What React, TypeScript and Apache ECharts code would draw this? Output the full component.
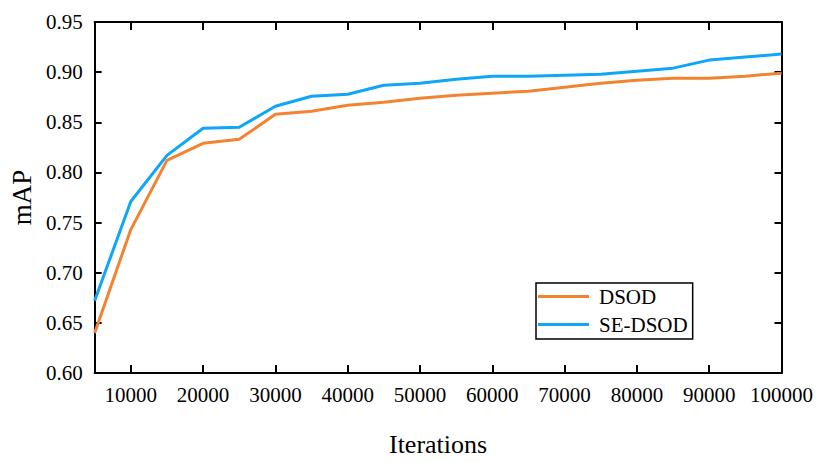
import React, { useEffect, useRef } from "react";
import * as echarts from "echarts";

const iterations = [5000, 10000, 15000, 20000, 25000, 30000, 35000, 40000, 45000, 50000, 55000, 60000, 65000, 70000, 75000, 80000, 85000, 90000, 95000, 100000];
const dsod = [0.640, 0.743, 0.812, 0.829, 0.833, 0.858, 0.861, 0.867, 0.870, 0.874, 0.877, 0.879, 0.881, 0.885, 0.889, 0.892, 0.894, 0.894, 0.896, 0.899];
const seDsod = [0.672, 0.771, 0.817, 0.844, 0.845, 0.866, 0.876, 0.878, 0.887, 0.889, 0.893, 0.896, 0.896, 0.897, 0.898, 0.901, 0.904, 0.912, 0.915, 0.918];
const xTicks = [10000, 20000, 30000, 40000, 50000, 60000, 70000, 80000, 90000, 100000];
const yTicks = [0.6, 0.65, 0.7, 0.75, 0.8, 0.85, 0.9, 0.95];

const FONT = "Liberation Serif";
const ORANGE = "#F28330";
const BLUE = "#0FA6F7";

export default function App() {
  const ref = useRef<HTMLDivElement>(null);
  useEffect(() => {
    if (!ref.current) return;
    const chart = echarts.init(ref.current, null, { renderer: "svg" });
    const axisLine = { show: true, lineStyle: { color: "#000", width: 2 } };
    const xBase = {
      type: "value",
      min: 5000,
      max: 100000,
      axisLine,
      splitLine: { show: false },
      axisTick: { show: true, inside: true, length: 8, customValues: xTicks, lineStyle: { color: "#000", width: 2 } },
    };
    const yBase = {
      type: "value",
      min: 0.6,
      max: 0.95,
      axisLine,
      splitLine: { show: false },
      axisTick: { show: true, inside: true, length: 7, customValues: yTicks, lineStyle: { color: "#000", width: 2 } },
    };
    chart.setOption({
      animation: false,
      textStyle: { fontFamily: FONT },
      grid: { left: 93, right: 31, top: 22, bottom: 71 },
      xAxis: [
        {
          ...xBase,
          position: "bottom",
          name: "Iterations",
          nameLocation: "middle",
          nameGap: 58,
          nameTextStyle: { fontFamily: FONT, fontSize: 26, color: "#000" },
          axisLabel: {
            show: true,
            fontFamily: "serif",
            fontSize: 21,
            color: "#000",
            customValues: xTicks,
            margin: 11,
            formatter: (v: number) => String(v),
          },
        },
        { ...xBase, position: "top", axisLabel: { show: false } },
      ],
      yAxis: [
        {
          ...yBase,
          position: "left",
          name: "mAP",
          nameLocation: "middle",
          nameGap: 59,
          nameTextStyle: { fontFamily: FONT, fontSize: 27, color: "#000" },
          axisLabel: {
            show: true,
            fontFamily: "Times New Roman",
            fontSize: 21,
            color: "#000",
            customValues: yTicks,
            margin: 12,
            formatter: (v: number) => v.toFixed(2),
          },
        },
        { ...yBase, position: "right", axisLabel: { show: false } },
      ],
      legend: {
        left: 536,
        top: 283,
        orient: "vertical",
        borderColor: "#000",
        borderWidth: 1.5,
        borderRadius: 0,
        padding: [3, 5, 4, 2],
        itemWidth: 51,
        itemHeight: 3,
        itemGap: 7,
        textStyle: { fontFamily: FONT, fontSize: 21, color: "#000", padding: [0, 0, 0, 5] },
        data: [
          { name: "DSOD", icon: "rect", itemStyle: { color: ORANGE } },
          { name: "SE-DSOD", icon: "rect", itemStyle: { color: BLUE } },
        ],
      },
      series: [
        {
          name: "DSOD",
          type: "line",
          data: iterations.map((x, i) => [x, dsod[i]]),
          showSymbol: false,
          symbol: "none",
          lineStyle: { color: ORANGE, width: 3 },
          itemStyle: { color: ORANGE },
        },
        {
          name: "SE-DSOD",
          type: "line",
          data: iterations.map((x, i) => [x, seDsod[i]]),
          showSymbol: false,
          symbol: "none",
          lineStyle: { color: BLUE, width: 3 },
          itemStyle: { color: BLUE },
        },
      ],
    });
    return () => chart.dispose();
  }, []);
  return <div ref={ref} style={{ position: "absolute", left: 0, top: 0, width: 816, height: 462 }} />;
}
